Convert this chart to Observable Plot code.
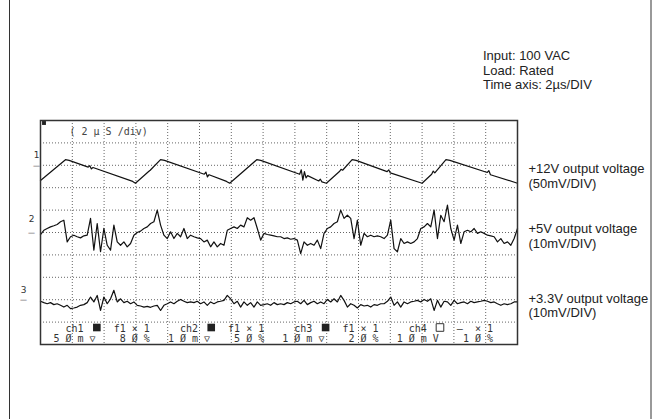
<!DOCTYPE html>
<html><head><meta charset="utf-8">
<script src="https://cdn.jsdelivr.net/npm/d3@7"></script>
<script src="https://cdn.jsdelivr.net/npm/@observablehq/plot@0.6"></script>
<style>
body{margin:0;background:#fff;}
#wrap{position:relative;width:655px;height:419px;overflow:hidden;font-family:"Liberation Sans",Arial,sans-serif;color:#222;}
.vline{position:absolute;top:0;width:1px;height:419px;}
#info{position:absolute;left:483px;top:49px;font-size:13px;line-height:14.5px;color:#222;}
svg text{white-space:pre;}
</style></head><body>
<div id="wrap">
<div class="vline" style="left:9px;background:#333"></div>
<div class="vline" style="left:650px;width:2px;background:#999"></div>
<div id="info">Input: 100 VAC<br>Load: Rated<br>Time axis: 2µs/DIV</div>
<div id="chart"></div>
</div>
<script>
// time base: 15 divisions × 2 µs
const timeDomain = [0, 30];
const gridTimes = [2,4,6,8,10,12,14,16,18,20,22,24,26,28];
const gridDivs = [1,2,3,4,5,6,7,8,9];
const timeBaseLabel = "( 2 µ S /div)";

// channels
const channelNames = ["1", "2", "3"];
const channelMarkerDiv = [8, 5, 2];
const channelMvPerDiv = [50, 10, 10];
const channelLabels = ["+12V output voltage\n(50mV/DIV)", "+5V output voltage\n(10mV/DIV)", "+3.3V output voltage\n(10mV/DIV)"];

// readout row
const readoutNames = ["ch1", "ch2", "ch3", "ch4"];
const readoutBoxFilled = [true, true, true, false];
const readoutFilters = ["f1", "f1", "f1", "— "];
const readoutVolts = ["50m", "10m", "10m", "10m"];
const readoutCoupling = ["▽", "▽", "▽", "V"];
const readoutPercent = ["80%", "50%", "20%", "10%"];

// ch1 (+12V), [time µs, mV]
const ch1Points = [[0,-34],[1.57,12.5],[1.8,11],[3.0,-4],[3.1,-1],[3.2,-8],[3.3,-5],[5.8,-36],[5.97,-40],
[6.8,-14],[6.9,-11],[7.55,12.5],[7.8,11],[10.3,-20],[10.4,-15],[10.5,-26],[10.6,-21],[11.7,-36],[11.9,-40],
[13.6,12.5],[13.85,11],[16.3,-20],[16.4,-10],[16.5,-33],[16.6,-14],[16.7,-28],[16.8,-23],[17.5,-35],[17.6,-31],[17.7,-37],[17.98,-40],
[18.8,-14],[18.9,-9],[19.0,-11],[19.6,12.5],[19.85,11],[21.8,-14],[21.9,-10],[22.0,-17],[24.0,-40],
[24.6,-20],[24.7,-13],[24.8,-17],[25.5,12.5],[25.75,11],[28.1,-16],[28.2,-12],[28.3,-21],[30,-40]];

// ch2 (+5V), mV, evenly sampled over 30 µs
const ch2mV = [-0.9,1.0,1.8,2.5,3.0,3.6,4.8,5.5,-4.2,-1.9,-1.2,-1.9,-2.4,-1.5,-1.2,6.3,-7.9,4.0,-8.6,1.8,
-5.7,-7.9,3.3,-4.2,-5.7,-4.2,-6.4,-4.9,-1.2,0,0.6,1.8,2.5,4.0,4.8,10.0,3.3,-1.2,-2.7,0.3,
-2.7,-0.4,-1.9,1.8,-2.7,-1.2,-1.9,-2.4,-2.7,-4.2,-3.4,-6.4,-4.2,-6.4,-4.9,-5.7,1.0,1.8,2.5,1.8,
3.3,2.5,6.6,5.5,6.6,1.8,-3.4,-0.4,-0.9,-1.2,-1.5,-1.9,-1.9,-2.7,-2.4,-3.0,-2.7,-3.4,-9.4,-4.2,
-5.7,-4.9,-5.7,-3.4,-7.2,-0.4,1.8,2.5,4.0,4.8,10.0,6.3,7.7,6.3,-2.7,5.5,-5.7,-0.4,-1.9,-1.2,
-1.9,-1.5,-1.9,-2.7,-1.2,5.5,-7.2,-8.6,-2.7,-4.9,-4.2,-4.9,-4.2,-2.7,1.8,2.5,4.0,2.5,10.0,-2.7,
7.7,4.8,12.2,1.8,-3.4,3.3,-4.9,0.3,1.0,0.3,1.8,-0.4,0.3,-0.4,-1.2,-1.5,-1.9,-4.2,-2.7,-4.9,
-4.2,-5.7,-2.7,1.8];

// ch3 (+3.3V), mV, evenly sampled over 30 µs
const ch3mV = [-0.7,-1.3,-1.8,-1.3,-2.2,-1.8,-2.5,-3.3,-2.5,-4.0,-3.7,-3.3,-2.5,-2.2,-1.3,1.2,-1.0,1.9,-4.8,1.2,
-1.8,0.4,4.2,-1.0,0.4,-1.3,-0.7,-1.8,-1.0,-2.5,-2.8,-3.3,-3.0,-3.4,-2.8,-2.5,-4.8,-2.5,-1.8,-1.0,
-1.8,-0.7,0.1,-0.7,-1.3,-1.0,-1.3,-0.7,-1.8,-1.0,-2.5,-1.0,-1.8,-1.0,-0.7,-0.3,1.9,0.4,-1.8,-0.7,
-3.3,-1.0,-2.5,-1.3,-3.3,-1.0,-2.5,-2.2,-1.8,-2.5,-1.3,-2.2,-1.8,-2.2,-1.3,-1.8,-1.0,-0.7,-1.8,-0.3,
-2.2,-1.3,-0.7,-1.8,-1.0,-1.8,0.1,-1.0,0.4,-1.0,1.9,-0.3,-3.3,-1.8,-2.5,-3.7,-2.2,-2.8,-2.5,-3.3,
-2.2,-2.5,-1.8,-1.8,-0.7,1.2,-2.5,-1.0,-3.3,-1.0,-1.8,-1.0,-0.7,-0.3,-1.0,0.1,-0.7,0.4,-4.8,-0.3,
-3.3,-0.7,-1.0,-2.5,-0.3,-1.8,-1.3,-1.0,-1.8,-0.7,-1.3,-1.0,-0.7,-0.3,-0.7,-1.3,-1.0,-1.8,-2.5,-1.8,
-2.2,-1.8,-1.0,-1.0];

const toDiv = (ch, mv) => channelMarkerDiv[ch] + mv / channelMvPerDiv[ch];
const sampleTime = (i, n) => timeDomain[0] + i * (timeDomain[1] - timeDomain[0]) / (n - 1);

const trace = [
  ...ch1Points.map(([t, mv]) => ({ch: 0, t, y: toDiv(0, mv)})),
  ...ch2mV.map((mv, i) => ({ch: 1, t: sampleTime(i, ch2mV.length), y: toDiv(1, mv)})),
  ...ch3mV.map((mv, i) => ({ch: 2, t: sampleTime(i, ch3mV.length), y: toDiv(2, mv)}))
];

const spaced = s => s.replace(/0/g, "Ø").split("").join(" ");
const readLine1 = readoutNames.map((n, i) => `  ${n}     ${readoutFilters[i]} × 1`).join("   ");
const readLine2 = readoutNames.map((n, i) => `${spaced(readoutVolts[i])} ${readoutCoupling[i]}    ${spaced(readoutPercent[i])}`).join("   ");

const channels = channelNames.map((name, i) => ({name, y: channelMarkerDiv[i], label: channelLabels[i]}));
const markerDx = [-4, -9, -17];
const markerDy = [-10, -13, -10];
const labelDy = [10.5, 3.5, 5.5];
const mono = "DejaVu Sans Mono, monospace";
const charW = 6.02;     // advance of the 10px mono font
const readoutLeft = 13; // from frame left
const blockCols = 19;

const plot = Plot.plot({
  width: 655, height: 419,
  marginLeft: 40, marginRight: 138, marginTop: 120, marginBottom: 75,
  x: {domain: timeDomain, axis: null},
  y: {domain: [0, 10], axis: null},
  style: {background: "transparent", overflow: "visible"},
  marks: [
    Plot.gridX(gridTimes, {stroke: "#666", strokeOpacity: 1, strokeDasharray: "1,2"}),
    Plot.gridY(gridDivs, {stroke: "#666", strokeOpacity: 1, strokeDasharray: "1,2"}),
    Plot.line(trace, {x: "t", y: "y", z: "ch", stroke: "#111", strokeWidth: 1.2, curve: "linear"}),
    Plot.frame({stroke: "#333", strokeWidth: 1.5}),
    Plot.dot([0], {frameAnchor: "top-left", dx: 3.5, dy: 2.5, symbol: "square", r: 2.2, fill: "#222", stroke: null}),
    Plot.text([timeBaseLabel], {frameAnchor: "top-left", text: d => d, dx: 29, dy: 11, textAnchor: "start", lineAnchor: "middle", fontFamily: mono, fontSize: 10, fill: "#444"}),
    Plot.text([readLine1], {frameAnchor: "bottom-left", text: d => d, dx: readoutLeft, dy: -16, textAnchor: "start", lineAnchor: "middle", fontFamily: mono, fontSize: 10, fill: "#333"}),
    ...readoutBoxFilled.map((filled, i) => Plot.dot([i], {frameAnchor: "bottom-left", dx: readoutLeft + (i * blockCols + 7.2) * charW, dy: -17, symbol: "square", r: 4.3, fill: filled ? "#222" : "white", stroke: filled ? null : "#333", strokeWidth: 1})),
    Plot.text([readLine2], {frameAnchor: "bottom-left", text: d => d, dx: readoutLeft, dy: -6, textAnchor: "start", lineAnchor: "middle", fontFamily: mono, fontSize: 10, fill: "#333"}),
    ...channels.map((c, i) => Plot.text([c], {x: () => timeDomain[0], y: "y", text: "name", dx: markerDx[i], dy: markerDy[i], textAnchor: "middle", fontSize: 9, fontFamily: "DejaVu Sans", fill: "#333"})),
    ...channels.map((c, i) => Plot.text([c], {x: () => timeDomain[0], y: "y", text: () => "—", dx: markerDx[i], dy: 0, textAnchor: "middle", fontSize: 7, fontFamily: "DejaVu Sans", fill: "#333"})),
    ...channels.map((c, i) => Plot.text([c], {x: () => timeDomain[1], y: "y", text: "label", dx: 11, dy: labelDy[i], textAnchor: "start", lineAnchor: "middle", lineHeight: 1.15, fontSize: 13, fontFamily: "Liberation Sans, Arial, sans-serif", fill: "#222"}))
  ]
});
document.getElementById("chart").appendChild(plot);
plot.style.position = "absolute";
plot.style.left = "0px";
plot.style.top = "0px";
</script>
</body></html>
